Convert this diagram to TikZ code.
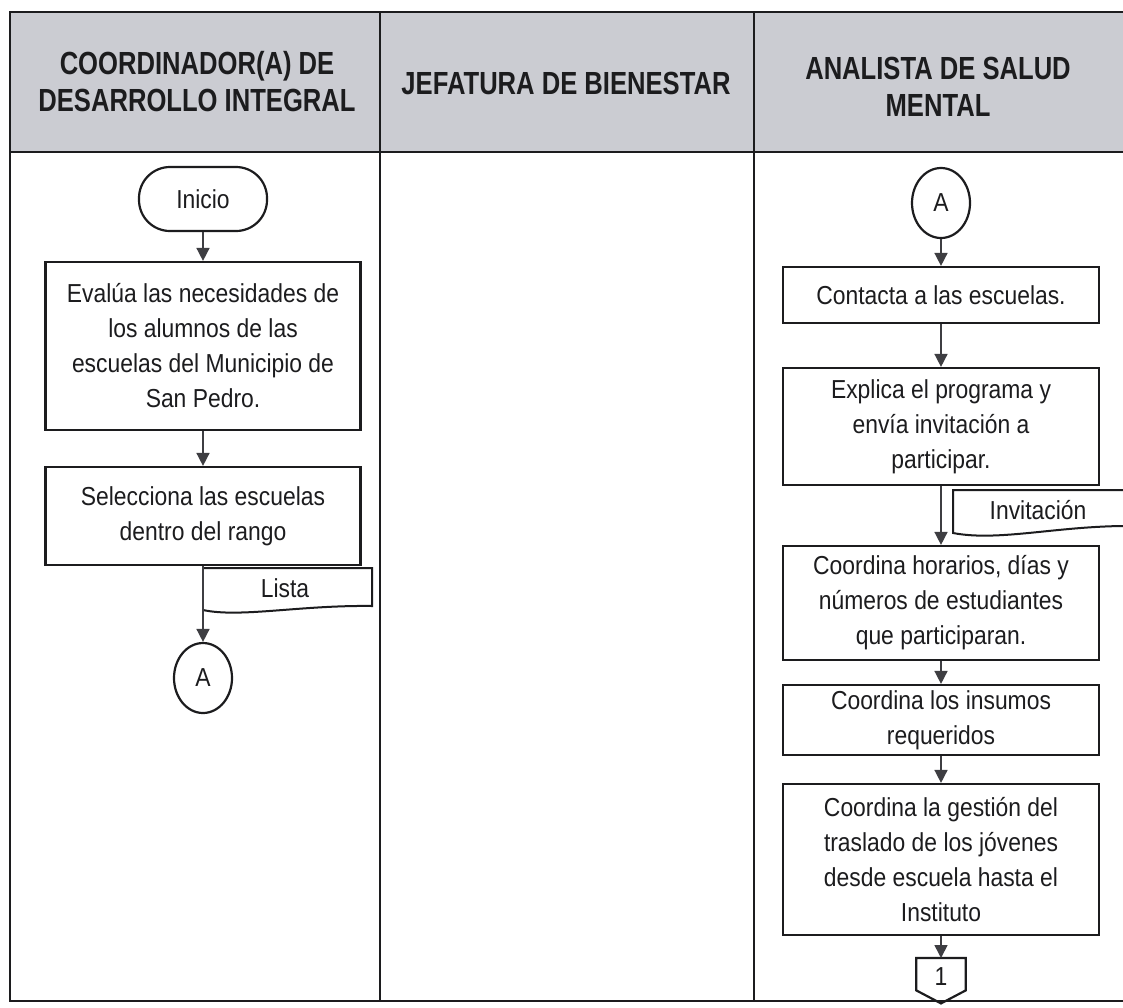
\documentclass[tikz,border=0pt]{standalone}
\usepackage{fontspec}
\setmainfont[FakeStretch=0.88]{Liberation Sans}
\newfontfamily\hdrfont[FakeStretch=0.8]{Liberation Sans}
\usetikzlibrary{shapes.geometric,arrows.meta,calc}
\definecolor{hdrgray}{RGB}{203,204,210}
\definecolor{ink}{RGB}{28,28,30}
\definecolor{arrowgray}{RGB}{62,62,66}
\newcommand\bdyfont{\fontsize{26}{35}\selectfont}
\newcommand\hdrtxt{\hdrfont\bfseries\fontsize{32}{37}\selectfont}
\begin{document}
\begin{tikzpicture}[x=1pt,y=-1pt,
  frame/.style={draw=ink, line width=2.3pt},
  box/.style={draw=ink, line width=2.2pt, rectangle, inner sep=0pt, align=center, font=\bdyfont, text=ink, minimum width=316pt},
  term/.style={draw=ink, line width=2.2pt, rectangle, rounded corners=31pt, minimum width=128pt, minimum height=64pt, inner sep=0pt, font=\bdyfont, text=ink},
  conn/.style={draw=ink, line width=2.2pt, ellipse, minimum width=58pt, minimum height=70pt, inner sep=0pt, font=\bdyfont, text=ink},
  doc/.style={draw=ink, line width=2pt},
  lbl/.style={inner sep=0pt, font=\bdyfont, text=ink},
  hdr/.style={inner sep=0pt, align=center, font=\hdrtxt, text=ink},
  arr/.style={draw=arrowgray, line width=1.6pt, -{Triangle[width=13pt,length=13pt]}}
]
\clip (0,0) rectangle (1123,1007);
\fill[white] (0,0) rectangle (1123,1007);
% header band and frame
\fill[hdrgray] (10,12) rectangle (1135,152);
\draw[frame] (1135,12) -- (10,12) -- (10,1001) -- (1135,1001);
\draw[frame] (10,152) -- (1135,152);
\draw[frame] (380,12) -- (380,1001);
\draw[frame] (754,12) -- (754,1001);
% headers
\node[hdr] (h1) at (197,82) {COORDINADOR(A) DE\\DESARROLLO INTEGRAL};
\node[hdr] (h2) at (566,83) {JEFATURA DE BIENESTAR};
\node[hdr] (h3) at (938,87) {ANALISTA DE SALUD\\MENTAL};
% left lane
\node[term] (ini) at (203,199) {Inicio};
\node[box, minimum height=168pt, minimum width=315pt] (b1) at (203,346) {Evalúa las necesidades de\\los alumnos de las\\escuelas del Municipio de\\San Pedro.};
\node[box, minimum height=98pt, minimum width=315pt] (b2) at (203,516) {Selecciona las escuelas\\dentro del rango};
\draw[doc] (203,568) -- (372,568) -- (372,606) .. controls (300,605) and (240,618) .. (203,610);
\node[lbl] (lista) at (285,588) {Lista};
\node[conn] (a1) at (203,678) {A};
% right lane
\node[conn] (a2) at (941,203) {A};
\node[box, minimum height=56pt] (c1) at (941,295) {Contacta a las escuelas.};
\node[box, minimum height=117pt] (c2) at (941,426.5) {Explica el programa y\\envía invitación a\\participar.};
\draw[doc] (953,490) -- (1135,490) -- (1135,526) .. controls (1060,525) and (1000,542) .. (953,533) -- cycle;
\node[lbl] (invit) at (1038,510) {Invitación};
\node[box, minimum height=114pt] (c3) at (941,603) {Coordina horarios, días y\\números de estudiantes\\que participaran.};
\node[box, minimum height=70pt] (c4) at (941,720) {Coordina los insumos\\requeridos};
\node[box, minimum height=151pt] (c5) at (941,859.5) {Coordina la gestión del\\traslado de los jóvenes\\desde escuela hasta el\\Instituto};
\node[rectangle, minimum width=49pt, minimum height=45pt, inner sep=0pt, anchor=north] (off) at (941,958) {};
\draw[doc, line width=2.2pt] (off.north west) -- (off.north east) -- ([yshift=13pt]off.south east) -- (off.south) -- ([yshift=13pt]off.south west) -- cycle;
\node[lbl] (one) at (941,977) {1};
% connectors
\draw[arr] (ini) -- (b1);
\draw[arr] (b1) -- (b2);
\draw[arr] (b2) -- (a1);
\draw[arr] (a2) -- (c1);
\draw[arr] (c1) -- (c2);
\draw[arr] (c2) -- (c3);
\draw[arr] (c3) -- (c4);
\draw[arr] (c4) -- (c5);
\draw[arr] (c5) -- (off);
\end{tikzpicture}
\end{document}
